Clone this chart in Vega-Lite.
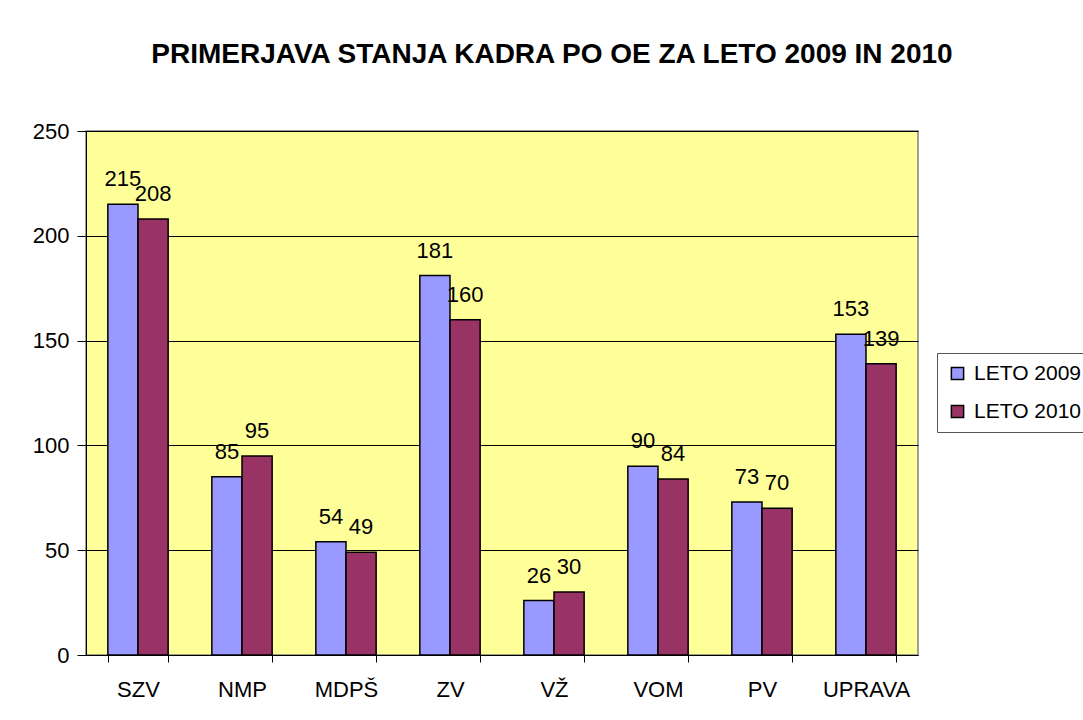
{
  "$schema": "https://vega.github.io/schema/vega-lite/v6.json",
  "autosize": "none",
  "width": 832,
  "height": 524,
  "padding": {"left": 86, "top": 131, "right": 165, "bottom": 65},
  "background": "white",
  "title": {
    "text": "PRIMERJAVA STANJA KADRA PO OE ZA LETO 2009 IN 2010",
    "font": "Liberation Sans",
    "fontSize": 28,
    "fontWeight": "bold",
    "color": "black",
    "anchor": "middle",
    "dx": 50,
    "offset": 51
  },
  "data": {
    "values": [
      {"oe": "SZV", "leto": "LETO 2009", "v": 215},
      {"oe": "SZV", "leto": "LETO 2010", "v": 208},
      {"oe": "NMP", "leto": "LETO 2009", "v": 85},
      {"oe": "NMP", "leto": "LETO 2010", "v": 95},
      {"oe": "MDPŠ", "leto": "LETO 2009", "v": 54},
      {"oe": "MDPŠ", "leto": "LETO 2010", "v": 49},
      {"oe": "ZV", "leto": "LETO 2009", "v": 181},
      {"oe": "ZV", "leto": "LETO 2010", "v": 160},
      {"oe": "VŽ", "leto": "LETO 2009", "v": 26},
      {"oe": "VŽ", "leto": "LETO 2010", "v": 30},
      {"oe": "VOM", "leto": "LETO 2009", "v": 90},
      {"oe": "VOM", "leto": "LETO 2010", "v": 84},
      {"oe": "PV", "leto": "LETO 2009", "v": 73},
      {"oe": "PV", "leto": "LETO 2010", "v": 70},
      {"oe": "UPRAVA", "leto": "LETO 2009", "v": 153},
      {"oe": "UPRAVA", "leto": "LETO 2010", "v": 139}
    ]
  },
  "encoding": {
    "x": {
      "field": "oe", "type": "nominal", "sort": null,
      "scale": {"paddingInner": 0.42, "paddingOuter": 0.21},
      "axis": {
        "title": null, "labelAngle": 0, "labelFont": "Liberation Sans", "labelFontSize": 22,
        "labelColor": "black", "labelPadding": 17, "domainColor": "black", "tickColor": "black",
        "tickBand": "extent", "tickSize": 7, "grid": false
      }
    },
    "xOffset": {"field": "leto", "type": "nominal"},
    "y": {
      "field": "v", "type": "quantitative",
      "scale": {"domain": [0, 250], "nice": false},
      "axis": {
        "title": null, "values": [0, 50, 100, 150, 200, 250], "labelFont": "Liberation Sans",
        "labelFontSize": 22, "labelColor": "black", "labelPadding": 8, "tickSize": 9,
        "tickColor": "black", "domainColor": "black", "grid": true, "gridColor": "black", "gridWidth": 1
      }
    }
  },
  "layer": [
    {
      "mark": {"type": "bar", "stroke": "black", "strokeWidth": 1.5},
      "encoding": {
        "color": {
          "field": "leto", "type": "nominal",
          "scale": {"domain": ["LETO 2009", "LETO 2010"], "range": ["#9999FF", "#993366"]},
          "legend": {
            "title": null, "orient": "none", "legendX": 851, "legendY": 222,
            "labelFont": "Liberation Sans", "labelFontSize": 21, "labelColor": "black",
            "symbolType": "square", "symbolSize": 150, "symbolStrokeColor": "black", "symbolStrokeWidth": 1.5,
            "strokeColor": "#555", "padding": 10, "rowPadding": 16, "labelOffset": 6
          }
        }
      }
    },
    {
      "mark": {"type": "text", "baseline": "alphabetic", "dy": -18, "font": "Liberation Sans", "fontSize": 22, "color": "black"},
      "encoding": {"text": {"field": "v", "type": "quantitative"}}
    }
  ],
  "config": {
    "view": {"fill": "#FFFF99", "stroke": "#808080", "strokeWidth": 1.5}
  }
}
